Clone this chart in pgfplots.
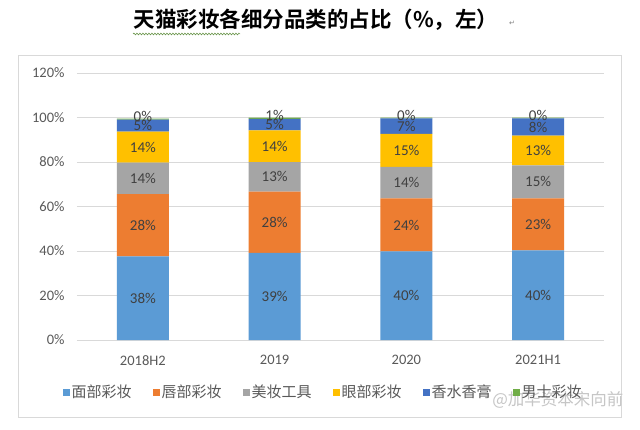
\documentclass[border=0pt]{standalone}
\usepackage{pgfplots}
\pgfplotsset{compat=1.18}
\usetikzlibrary{decorations.pathmorphing}
\usepackage{fontspec}
\setmainfont{Carlito}
\newfontfamily\cjk{Noto Sans CJK SC}
\newfontfamily\cjkb{Noto Sans CJK SC Bold}
\newfontfamily\dejavu{DejaVu Sans}
\definecolor{c1}{HTML}{5B9BD5}
\definecolor{c2}{HTML}{ED7D31}
\definecolor{c3}{HTML}{A5A5A5}
\definecolor{c4}{HTML}{FFC000}
\definecolor{c5}{HTML}{4472C4}
\definecolor{c6}{HTML}{70AD47}
\definecolor{gridc}{HTML}{D9D9D9}
\definecolor{tickc}{HTML}{595959}
\definecolor{labc}{HTML}{404040}
\begin{document}
\begin{tikzpicture}[x=1pt,y=1pt]
\path[fill=white] (0,0) rectangle (640,429);
\draw[gridc, line width=0.8pt] (18.5,12) rectangle (621.5,374);
\node[font=\cjkb\fontsize{21.5}{24}\selectfont, anchor=center] at (316,409) {天猫彩妆各细分品类的占比（\%，左）};
\draw[c6!80!black, line width=0.5pt, decorate, decoration={snake, amplitude=0.9pt, segment length=3pt}] (133,395) -- (240,395);
\node[font=\dejavu\fontsize{7}{8}\selectfont, text=gray] at (512,406) {↵};
\node[font=\cjk\fontsize{16.5}{18}\selectfont, text=gray!45, anchor=east] at (627,29) {@加华资本宋向前};
\begin{axis}[
  at={(77pt,89pt)}, anchor=south west,
  scale only axis, width=527pt, height=267pt,
  ybar stacked, bar width=52pt,
  xmin=-0.5, xmax=3.5, ymin=0, ymax=120,
  xtick={0,1,2,3}, xticklabels={2018H2,2019,2020,2021H1},
  ytick={0,20,40,60,80,100,120},
  yticklabel={\pgfmathprintnumber{\tick}\%},
  /pgf/number format/assume math mode=true,
  ymajorgrids, grid style={draw=gridc, line width=0.9pt},
  axis line style={draw=none},
  major tick style={draw=none},
  tick label style={font=\fontsize{14.5}{16}\selectfont, text=tickc},
  yticklabel style={xshift=-9pt},
  xticklabel style={yshift=-12pt},
  point meta=rawy,
  nodes near coords={\pgfmathprintnumber[fixed,precision=0]{\pgfplotspointmeta}\%},
  every node near coord/.append style={anchor=center, font=\fontsize{15}{16}\selectfont, text=labc},
  legend style={at={(0.467,-0.195)}, anchor=center, draw=none, fill=none, legend columns=6,
    font=\cjk\fontsize{15}{17}\selectfont, text=tickc,
    /tikz/every even column/.append style={column sep=19pt}},
  legend image code/.code={\fill[#1] (0pt,-3.5pt) rectangle (7pt,3.5pt);},
]
\addplot[fill=c1, draw=none] coordinates {(0,37.6) (1,39.2) (2,39.8) (3,40.3)};
\addplot[fill=c2, draw=none] coordinates {(0,28.0) (1,27.5) (2,23.8) (3,23.4)};
\addplot[fill=c3, draw=none] coordinates {(0,14.1) (1,13.3) (2,14.2) (3,14.8)};
\addplot[fill=c4, draw=none] coordinates {(0,14.0) (1,14.2) (2,14.8) (3,13.4)};
\addplot[fill=c5, draw=none] coordinates {(0,5.4) (1,5.2) (2,7.0) (3,7.7)};
\addplot[fill=c6, draw=none, every node near coord/.append style={yshift=3pt}] coordinates {(0,0.4) (1,0.6) (2,0.4) (3,0.4)};
\legend{面部彩妆,唇部彩妆,美妆工具,眼部彩妆,香水香膏,男士彩妆}
\end{axis}
\end{tikzpicture}
\end{document}
